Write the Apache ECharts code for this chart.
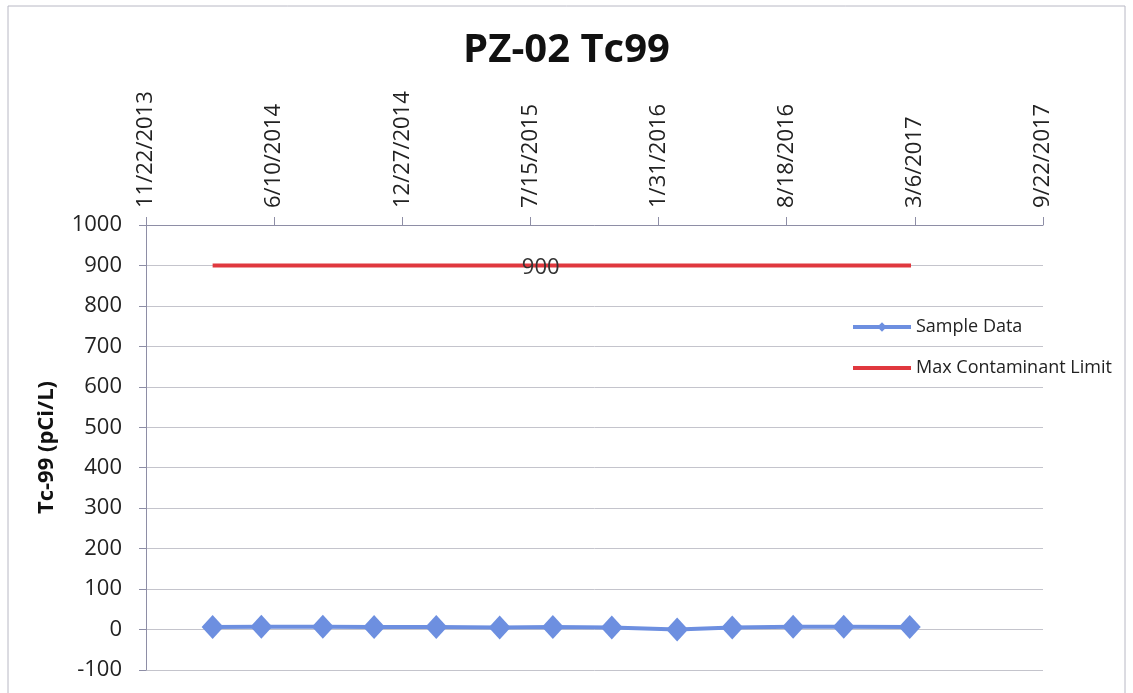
<!DOCTYPE html>
<html>
<head>
<meta charset="utf-8">
<script src="https://cdn.jsdelivr.net/npm/echarts@6/dist/echarts.min.js"></script>
<style>
  html, body { margin: 0; padding: 0; background: #fff; }
  #chart { width: 1133px; height: 693px; }
</style>
</head>
<body>
<div id="chart"></div>
<script>
// axis origin and tick step (days)
var originDate = '2013-11-22';
var tickDays = 200;
var tickCount = 7;

// sample data
var sampleDates = ['2014-03-06', '2014-05-21', '2014-08-25', '2014-11-13', '2015-02-18',
    '2015-05-28', '2015-08-19', '2015-11-19', '2016-02-29', '2016-05-25',
    '2016-08-28', '2016-11-15', '2017-02-26'];
var sampleValues = [6, 7, 7, 6, 6, 5, 6, 5, 0, 5, 7, 7, 6];

// max contaminant limit
var mclDates = ['2014-03-06', '2017-02-28'];
var mclValues = [900, 900];
var mclLabelDate = '2015-07-31';

var yTicks = { min: -100, max: 1000, step: 100 };

var DAY = 86400000;
function toDays(s) {
    return Math.round((Date.parse(s) - Date.parse(originDate)) / DAY);
}
function fmtDate(d) {
    var t = new Date(Date.parse(originDate) + d * DAY);
    return (t.getUTCMonth() + 1) + '/' + t.getUTCDate() + '/' + t.getUTCFullYear();
}

var font = '"Open Sans", "Liberation Sans", sans-serif';
var axisColor = '#8e8ea6';

var chart = echarts.init(document.getElementById('chart'));
chart.setOption({
    animation: false,
    backgroundColor: '#fff',
    textStyle: { fontFamily: font, color: '#222' },
    title: {
        text: 'PZ-02 Tc99',
        left: 'center',
        top: 26,
        textStyle: { fontFamily: font, fontSize: 40, fontWeight: 'bold', color: '#111' }
    },
    graphic: [{
        type: 'rect',
        shape: { x: 8, y: 6, width: 1117, height: 720 },
        style: { fill: 'none', stroke: '#b8b8c4', lineWidth: 1 },
        silent: true,
        z: -1
    }],
    legend: {
        orient: 'vertical',
        left: 846,
        top: 313,
        itemGap: 23,
        itemWidth: 58,
        itemHeight: 12,
        lineStyle: { width: 4 },
        textStyle: { fontFamily: font, fontSize: 18, color: '#222' },
        data: [
            { name: 'Sample Data' },
            // plain thick bar for the limit line
            { name: 'Max Contaminant Limit', icon: 'path://M0,0 H58 V4 H0 Z' }
        ]
    },
    grid: { left: 146, right: 90, top: 225, bottom: 23, containLabel: false },
    xAxis: {
        type: 'value',
        position: 'top',
        min: 0,
        max: tickDays * tickCount,
        interval: tickDays,
        axisLine: { show: true, onZero: false, lineStyle: { color: axisColor } },
        axisTick: { show: true, length: 8, lineStyle: { color: axisColor } },
        splitLine: { show: false },
        axisLabel: {
            rotate: -90,
            margin: 17,
            fontSize: 22,
            fontFamily: font,
            color: '#222',
            formatter: function (v) { return fmtDate(v); }
        }
    },
    yAxis: {
        type: 'value',
        min: yTicks.min,
        max: yTicks.max,
        interval: yTicks.step,
        name: 'Tc-99 (pCi/L)',
        nameLocation: 'middle',
        nameGap: 88,
        nameTextStyle: { fontFamily: font, fontSize: 22, fontWeight: 'bold', color: '#111' },
        axisLine: { show: true, onZero: false, lineStyle: { color: axisColor } },
        axisTick: { show: true, length: 7, lineStyle: { color: axisColor } },
        axisLabel: {
            fontSize: 22, fontFamily: font, color: '#222', margin: 24,
            formatter: function (v) { return String(v); }
        },
        splitLine: { show: true, lineStyle: { color: '#c4c4cc', width: 1 } }
    },
    series: [{
        name: 'Sample Data',
        type: 'line',
        data: sampleDates.map(function (d, i) { return [toDays(d), sampleValues[i]]; }),
        symbol: 'diamond',
        symbolSize: [22, 24],
        showAllSymbol: true,
        lineStyle: { color: '#6d8fe0', width: 4 },
        itemStyle: { color: '#6d8fe0' },
        z: 3
    }, {
        name: 'Max Contaminant Limit',
        type: 'line',
        data: mclDates.map(function (d, i) { return [toDays(d), mclValues[i]]; }),
        symbol: 'none',
        lineStyle: { color: '#e0383e', width: 4 },
        itemStyle: { color: '#e0383e' },
        markPoint: {
            symbol: 'circle',
            symbolSize: 0,
            silent: true,
            label: {
                show: true,
                position: 'inside',
                fontFamily: font,
                fontSize: 22,
                color: '#333',
                offset: [0, 2],
                formatter: function (p) { return String(p.value); }
            },
            data: [{ coord: [toDays(mclLabelDate), mclValues[0]], value: mclValues[0] }]
        },
        z: 2
    }]
});
</script>
</body>
</html>
